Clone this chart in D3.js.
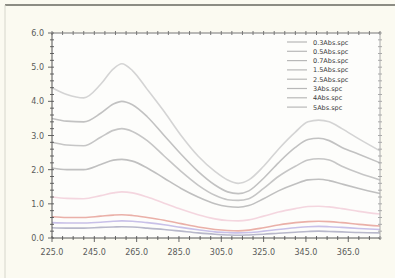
<!DOCTYPE html>
<html>
<head>
<meta charset="utf-8">
<script src="https://cdn.jsdelivr.net/npm/d3@7"></script>
<style>
    body { margin: 0; background: #fbfaf1; }
    svg { display: block; font-family: "DejaVu Sans", sans-serif; }
    .axis text { font-size: 8px; fill: #5a5a5a; }
    .legend text { font-size: 6.5px; fill: #3c3c3c; }
</style>
</head>
<body>
<div id="chart"></div>
<script>
// wavelengths (nm) shared by every spectrum
var wavelengths = [225, 232, 240, 248, 254, 258, 263, 270, 278, 286, 294, 302, 308, 313, 318, 325, 332, 340, 346, 351, 356, 362, 370, 380];

var seriesNames = ["0.3Abs.spc", "0.5Abs.spc", "0.7Abs.spc", "1.5Abs.spc", "2.5Abs.spc", "3Abs.spc", "4Abs.spc", "5Abs.spc"];
var seriesColors = ["#b8b8ca", "#c8c0e8", "#eab0a8", "#f4d6df", "#c0c0c0", "#c6c6c6", "#c2c2c2", "#d4d4d4"];

var abs03 = [0.30, 0.29, 0.29, 0.31, 0.32, 0.33, 0.32, 0.29, 0.25, 0.20, 0.15, 0.11, 0.09, 0.08, 0.09, 0.11, 0.14, 0.17, 0.19, 0.20, 0.19, 0.18, 0.16, 0.15];
var abs05 = [0.45, 0.44, 0.44, 0.46, 0.49, 0.50, 0.49, 0.45, 0.39, 0.31, 0.24, 0.18, 0.16, 0.15, 0.16, 0.20, 0.25, 0.30, 0.33, 0.34, 0.33, 0.31, 0.28, 0.25];
var abs07 = [0.62, 0.60, 0.60, 0.64, 0.67, 0.68, 0.66, 0.60, 0.52, 0.42, 0.32, 0.25, 0.22, 0.21, 0.23, 0.30, 0.38, 0.45, 0.48, 0.49, 0.48, 0.45, 0.40, 0.35];
var abs15 = [1.20, 1.16, 1.15, 1.24, 1.32, 1.35, 1.32, 1.20, 1.02, 0.84, 0.68, 0.56, 0.51, 0.50, 0.53, 0.64, 0.76, 0.86, 0.92, 0.93, 0.91, 0.86, 0.78, 0.70];
var abs25 = [2.05, 2.00, 2.00, 2.15, 2.28, 2.30, 2.25, 2.05, 1.75, 1.45, 1.20, 1.00, 0.92, 0.90, 0.95, 1.15, 1.38, 1.58, 1.70, 1.72, 1.68, 1.58, 1.45, 1.30];
var abs3 = [2.80, 2.72, 2.70, 2.95, 3.15, 3.20, 3.12, 2.85, 2.40, 1.95, 1.55, 1.25, 1.12, 1.10, 1.15, 1.45, 1.80, 2.10, 2.28, 2.32, 2.28, 2.10, 1.90, 1.70];
var abs4 = [3.50, 3.42, 3.40, 3.65, 3.92, 4.00, 3.90, 3.55, 3.00, 2.45, 1.95, 1.55, 1.35, 1.30, 1.38, 1.75, 2.20, 2.65, 2.88, 2.92, 2.85, 2.65, 2.45, 2.20];
var abs5 = [4.40, 4.20, 4.10, 4.50, 4.95, 5.10, 4.90, 4.35, 3.70, 3.00, 2.40, 1.95, 1.70, 1.60, 1.70, 2.10, 2.60, 3.10, 3.40, 3.45, 3.40, 3.20, 2.90, 2.55];

var seriesValues = [abs03, abs05, abs07, abs15, abs25, abs3, abs4, abs5];

var yLabels = ["0.0", "1.0", "2.0", "3.0", "4.0", "5.0", "6.0"];
var xLabels = ["225.0", "245.0", "265.0", "285.0", "305.0", "325.0", "345.0", "365.0"];

var width = 395, height = 278;
var plotLeft = 52, plotRight = 380, plotTop = 33, plotBottom = 238;

var svg = d3.select("#chart").append("svg")
        .attr("width", width)
        .attr("height", height);

// window frame
svg.append("line")
        .attr("x1", 5).attr("x2", width).attr("y1", 5).attr("y2", 5)
        .attr("stroke", "#8c8c84").attr("stroke-width", 2);
svg.append("line")
        .attr("x1", 5).attr("x2", 5).attr("y1", 5).attr("y2", height)
        .attr("stroke", "#d6d6cc").attr("stroke-width", 1);

var x = d3.scaleLinear().domain([225, 380]).range([plotLeft, plotRight]);
var y = d3.scaleLinear().domain([0, 6]).range([plotBottom, plotTop]);

svg.append("rect")
        .attr("x", plotLeft).attr("y", plotTop)
        .attr("width", plotRight - plotLeft).attr("height", plotBottom - plotTop)
        .attr("fill", "#fdfdfb");

var data = seriesNames.map(function (name, i) {
    return {
        name: name,
        color: seriesColors[i],
        values: wavelengths.map(function (w, j) {
            return {x: w, y: seriesValues[i][j]};
        })
    };
});

var line = d3.line()
        .curve(d3.curveMonotoneX)
        .x(function (d) {
            return x(d.x);
        })
        .y(function (d) {
            return y(d.y);
        });

svg.append("g").selectAll("path")
        .data(data)
        .enter().append("path")
        .attr("d", function (d) {
            return line(d.values);
        })
        .attr("fill", "none")
        .attr("stroke", function (d) {
            return d.color;
        })
        .attr("stroke-width", 1.6);

// axes: minor ticks crossing the frame, labels on majors
var minorY = d3.range(0, 6.01, 0.2);
var minorX = d3.range(225, 380.1, 5);

var yAxis = svg.append("g").attr("class", "axis");
yAxis.selectAll("line")
        .data(minorY)
        .enter().append("line")
        .attr("x1", function (d, i) { return i % 5 === 0 ? plotLeft - 4 : plotLeft - 2; })
        .attr("x2", plotLeft + 2)
        .attr("y1", function (d) { return y(d); })
        .attr("y2", function (d) { return y(d); })
        .attr("stroke", "#666");
yAxis.selectAll("text")
        .data(yLabels)
        .enter().append("text")
        .attr("x", plotLeft - 8)
        .attr("y", function (d) { return y(+d) + 3; })
        .attr("text-anchor", "end")
        .text(function (d) { return d; });

var rAxis = svg.append("g").attr("class", "axis");
rAxis.selectAll("line")
        .data(minorY)
        .enter().append("line")
        .attr("x1", plotRight - 2).attr("x2", plotRight + 2)
        .attr("y1", function (d) { return y(d); })
        .attr("y2", function (d) { return y(d); })
        .attr("stroke", "#aaa");

var xAxis = svg.append("g").attr("class", "axis");
xAxis.selectAll("line")
        .data(minorX)
        .enter().append("line")
        .attr("x1", function (d) { return x(d); })
        .attr("x2", function (d) { return x(d); })
        .attr("y1", plotBottom - 2)
        .attr("y2", function (d) { return (d - 225) % 20 === 0 ? plotBottom + 4 : plotBottom + 2; })
        .attr("stroke", "#666");
xAxis.selectAll("text")
        .data(xLabels)
        .enter().append("text")
        .attr("x", function (d) { return x(+d); })
        .attr("y", plotBottom + 17)
        .attr("text-anchor", "middle")
        .text(function (d) { return d; });

var tAxis = svg.append("g").attr("class", "axis");
tAxis.selectAll("line")
        .data(minorX)
        .enter().append("line")
        .attr("x1", function (d) { return x(d); })
        .attr("x2", function (d) { return x(d); })
        .attr("y1", plotTop - 2)
        .attr("y2", plotTop + 2)
        .attr("stroke", "#777");

// frame lines
svg.append("line").attr("x1", plotLeft).attr("x2", plotLeft).attr("y1", plotTop).attr("y2", plotBottom).attr("stroke", "#555");
svg.append("line").attr("x1", plotLeft).attr("x2", plotRight).attr("y1", plotBottom).attr("y2", plotBottom).attr("stroke", "#555");
svg.append("line").attr("x1", plotLeft).attr("x2", plotRight).attr("y1", plotTop).attr("y2", plotTop).attr("stroke", "#777");
svg.append("line").attr("x1", plotRight).attr("x2", plotRight).attr("y1", plotTop).attr("y2", plotBottom).attr("stroke", "#aaa");

// legend
var legend = svg.append("g").attr("class", "legend");
var row = legend.selectAll("g")
        .data(data)
        .enter().append("g")
        .attr("transform", function (d, i) {
            return "translate(287," + (42 + i * 9.3) + ")";
        });
row.append("line")
        .attr("x1", 0).attr("x2", 20)
        .attr("stroke", "#b8b8b8")
        .attr("stroke-width", 1.2);
row.append("text")
        .attr("x", 26)
        .attr("y", 2.5)
        .text(function (d) { return d.name; });
</script>
</body>
</html>
